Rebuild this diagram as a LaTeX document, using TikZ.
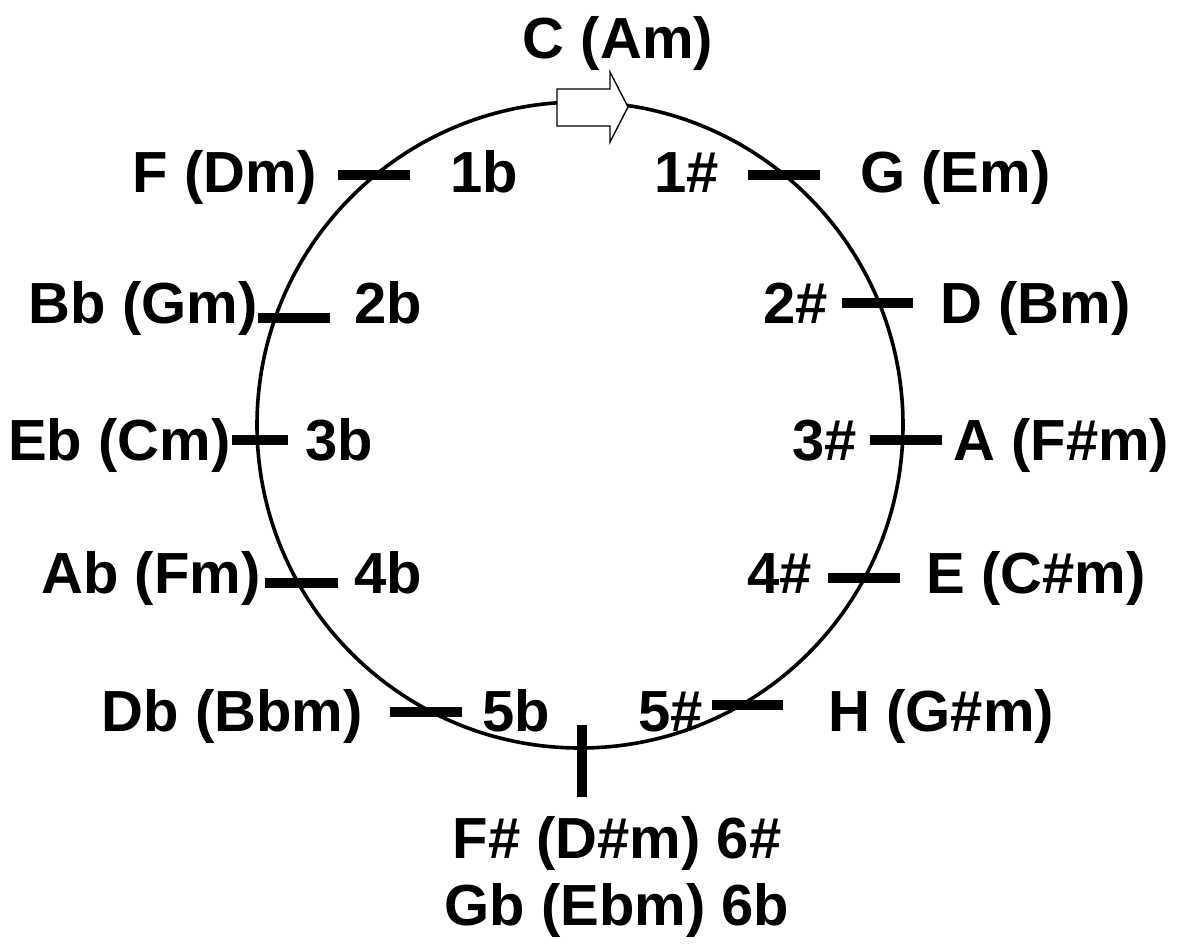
\documentclass[tikz,border=0pt]{standalone}
\usepackage{fontspec}
\setmainfont{Liberation Sans}
\usetikzlibrary{positioning}

\begin{document}
\begin{tikzpicture}[x=0.5pt, y=-0.5pt, keyL/.style={ font=\bfseries\fontsize{29}{33}\selectfont, inner sep=0pt, anchor=base west }, keyR/.style={ keyL, anchor=base east }, keyC/.style={ keyL, anchor=base }, notch/.style={ line width=5pt }, ring/.style={ line width=1.8pt }, pointer/.style={ draw, line width=0.7pt, fill=white } ]
\useasboundingbox (0,0) rectangle (1179,944);

% --- Kreis ---
\coordinate (centre) at (580,425);
\draw[ring] (centre) circle[radius=161.5pt];

% --- Pfeil oben ---
\draw[pointer] (557,89) -- (610,89) -- (610,72) -- (628,107) -- (610,142) -- (610,126) -- (557,126) -- cycle;

% --- Striche ---
\draw[notch] (338,175) -- (410,175); \draw[notch] (748,175) -- (820,175);
\draw[notch] (258,318) -- (330,318); \draw[notch] (842,303) -- (913,303);
\draw[notch] (232,440) -- (288,440); \draw[notch] (870,440) -- (942,440);
\draw[notch] (265,583) -- (338,583); \draw[notch] (828,578) -- (900,578);
\draw[notch] (390,712) -- (462,712); \draw[notch] (712,705) -- (783,705);
\draw[notch] (582,725) -- (582,797);

% --- Tonarten ---
\node[keyC] (cdur) at (618,58) {C (Am)};

\node[keyR] (fdur) at (317,192) {F (Dm)};
\node[keyL] (b1) at (450,192) {1b};
\node[keyR] (k1) at (719,192) {1\#};
\node[keyL] (gdur) at (860,192) {G (Em)};

\node[keyR] (bdur) at (258,323) {Bb (Gm)};
\node[keyL] (b2) at (354,323) {2b};
\node[keyR] (k2) at (828,323) {2\#};
\node[keyL] (ddur) at (940,323) {D (Bm)};

\node[keyR] (esdur) at (231,460) {Eb (Cm)};
\node[keyL] (b3) at (305,460) {3b};
\node[keyR] (k3) at (857,460) {3\#};
\node[keyL] (adur) at (953,460) {A (F\#m)};

\node[keyR] (asdur) at (261,593) {Ab (Fm)};
\node[keyL] (b4) at (354,593) {4b};
\node[keyR] (k4) at (812,593) {4\#};
\node[keyL] (edur) at (926,593) {E (C\#m)};

\node[keyR] (desdur) at (363,731) {Db (Bbm)};
\node[keyL] (b5) at (482,731) {5b};
\node[keyL] (k5) at (638,731) {5\#};
\node[keyL] (hdur) at (828,731) {H (G\#m)};

\node[keyC] (fisdur) at (617,858) {F\# (D\#m) 6\#};
\node[keyC, below=33.5pt of fisdur.base, anchor=base] (gesdur) {Gb (Ebm) 6b};
\end{tikzpicture}
\end{document}
